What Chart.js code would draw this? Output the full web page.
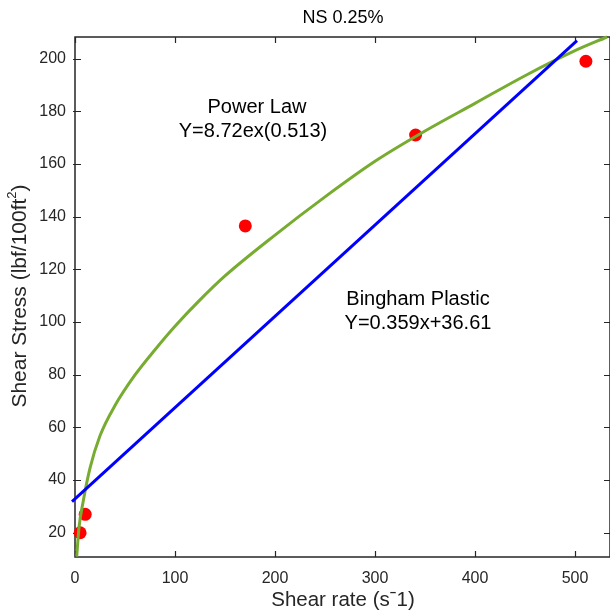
<!DOCTYPE html>
<html>
<head>
<meta charset="utf-8">
<script src="https://cdn.jsdelivr.net/npm/chart.js@4/dist/chart.umd.min.js"></script>
<style>
	html, body { margin: 0; padding: 0; background: #ffffff; }
	#wrap { width: 610px; height: 612px; }
</style>
</head>
<body>
<div id="wrap"><canvas id="rheoChart" width="610" height="612"></canvas></div>
<script>
///
///	Data
///

// Measured points (shear rate vs shear stress)
const shearRate = [5.1, 10.2, 170.3, 340.6, 510.9];
const shearStress = [20, 27, 136.5, 171, 199];

// Power law curve
const powerRate = [1.7, 4, 8, 15, 25, 40, 60, 80, 100, 125, 150, 200, 250, 300, 350, 400, 450, 500, 532];
const powerStress = [10.9, 22, 31.5, 44.5, 56.8, 68.3, 79.9, 89.5, 98.4, 108.4, 117.5, 133, 147.5, 161, 172.5, 183, 193.5, 203, 208.2];

// Bingham plastic line end points
const binghamRate = [-3, 502];
const binghamStress = [31.8, 206.8];

// Tick labels
const xTicks = [0, 100, 200, 300, 400, 500];
const yTicks = [20, 40, 60, 80, 100, 120, 140, 160, 180, 200];

// Text
const chartTitle = "NS 0.25%";
const xTitle = "Shear rate (s\u02C91)";
const yTitle = ["Shear Stress (lbf/100ft", "2", ")"];
const powerLabel = ["Power Law", "Y=8.72ex(0.513)"];
const binghamLabel = ["Bingham Plastic", "Y=0.359x+36.61"];

const axisColor = '#262626';
const fontFamily = 'Arial, "Liberation Sans", Helvetica, sans-serif';

function toPoints(xs, ys) {
	return xs.map((x, i) => ({ x: x, y: ys[i] }));
}

///
///	Plugin: box, inward ticks, titles and fit labels
///
const framePlugin = {
	id: 'frame',
	beforeDatasetsDraw(chart) {
		const ctx = chart.ctx;
		const a = chart.chartArea;
		const xs = chart.scales.x, ys = chart.scales.y;
		ctx.save();
		ctx.strokeStyle = axisColor;
		ctx.lineWidth = 1.5;
		ctx.strokeRect(a.left, a.top, a.right - a.left, a.bottom - a.top);
		ctx.lineWidth = 1.2;
		ctx.beginPath();
		xTicks.forEach(v => {
			const px = Math.round(xs.getPixelForValue(v)) + 0.5;
			ctx.moveTo(px, a.bottom); ctx.lineTo(px, a.bottom - 6);
			ctx.moveTo(px, a.top); ctx.lineTo(px, a.top + 6);
		});
		yTicks.forEach(v => {
			const py = Math.round(ys.getPixelForValue(v)) + 0.5;
			ctx.moveTo(a.left - 2, py); ctx.lineTo(a.left + 6, py);
			ctx.moveTo(a.right, py); ctx.lineTo(a.right - 6, py);
		});
		ctx.stroke();
		ctx.restore();
	},
	afterDraw(chart) {
		const ctx = chart.ctx;
		const xs = chart.scales.x, ys = chart.scales.y;
		ctx.save();
		ctx.fillStyle = '#000000';
		ctx.textAlign = 'center';
		ctx.textBaseline = 'middle';

		// Chart title
		ctx.font = '18px ' + fontFamily;
		ctx.fillText(chartTitle, 343, 18);

		// Axis titles
		ctx.fillStyle = axisColor;
		ctx.font = '20.5px ' + fontFamily;
		ctx.fillText(xTitle, 343, 600);

		ctx.save();
		ctx.translate(20, 296);
		ctx.rotate(-Math.PI / 2);
		const big = '21px ' + fontFamily, small = '13px ' + fontFamily;
		ctx.font = big;
		const w0 = ctx.measureText(yTitle[0]).width;
		const w2 = ctx.measureText(yTitle[2]).width;
		ctx.font = small;
		const w1 = ctx.measureText(yTitle[1]).width;
		let x0 = -(w0 + w1 + w2) / 2;
		ctx.textAlign = 'left';
		ctx.font = big;
		ctx.fillText(yTitle[0], x0, 0);
		ctx.font = small;
		ctx.fillText(yTitle[1], x0 + w0, -8);
		ctx.font = big;
		ctx.fillText(yTitle[2], x0 + w0 + w1, 0);
		ctx.restore();

		// Fit labels
		ctx.fillStyle = '#000000';
		ctx.font = '20px ' + fontFamily;
		const plx = xs.getPixelForValue(182), ply = ys.getPixelForValue(181.5);
		ctx.fillText(powerLabel[0], plx, ply);
		ctx.fillText(powerLabel[1], plx - 4, ply + 24);
		const blx = xs.getPixelForValue(343), bly = ys.getPixelForValue(108.5);
		ctx.fillText(binghamLabel[0], blx, bly);
		ctx.fillText(binghamLabel[1], blx, bly + 24);
		ctx.restore();
	}
};

///
///	Chart
///
const rheoCanvas = document.getElementById('rheoChart');

const rheoChart = new Chart(rheoCanvas, {
	type: 'scatter',
	data: {
		datasets: [
			{
				label: 'Bingham Plastic',
				data: toPoints(binghamRate, binghamStress),
				showLine: true,
				borderColor: '#0000FF',
				borderWidth: 3,
				pointRadius: 0,
				clip: false,
				order: 1
			},
			{
				label: 'Power Law',
				data: toPoints(powerRate, powerStress),
				showLine: true,
				borderColor: '#77AC30',
				borderWidth: 3,
				pointRadius: 0,
				cubicInterpolationMode: 'monotone',
				clip: false,
				order: 2
			},
			{
				label: 'Measured',
				data: toPoints(shearRate, shearStress),
				showLine: false,
				backgroundColor: '#FF0000',
				borderColor: '#FF0000',
				borderWidth: 0,
				pointRadius: 6.5,
				clip: false,
				order: 3
			}
		]
	},
	options: {
		responsive: false,
		devicePixelRatio: 1,
		animation: false,
		layout: { autoPadding: false, padding: { top: 37, right: 0, left: 0, bottom: 0 } },
		plugins: {
			legend: { display: false },
			title: { display: false },
			tooltip: { enabled: false }
		},
		scales: {
			x: {
				type: 'linear',
				min: 0,
				max: 535,
				grid: { display: false, drawTicks: false },
				border: { display: false },
				afterBuildTicks: s => { s.ticks = xTicks.map(v => ({ value: v })); },
				afterFit: s => { s.height = 55; s.paddingLeft = 0; s.paddingRight = 0; },
				ticks: {
					color: axisColor,
					font: { size: 16, family: fontFamily },
					padding: 12,
					maxRotation: 0
				}
			},
			y: {
				type: 'linear',
				min: 10.8,
				max: 208.2,
				grid: { display: false, drawTicks: false },
				border: { display: false },
				afterBuildTicks: s => { s.ticks = yTicks.map(v => ({ value: v })); },
				afterFit: s => { s.width = 75; s.paddingTop = 0; s.paddingBottom = 0; },
				ticks: {
					color: axisColor,
					font: { size: 16, family: fontFamily },
					padding: 9
				}
			}
		}
	},
	plugins: [framePlugin]
});
</script>
</body>
</html>
